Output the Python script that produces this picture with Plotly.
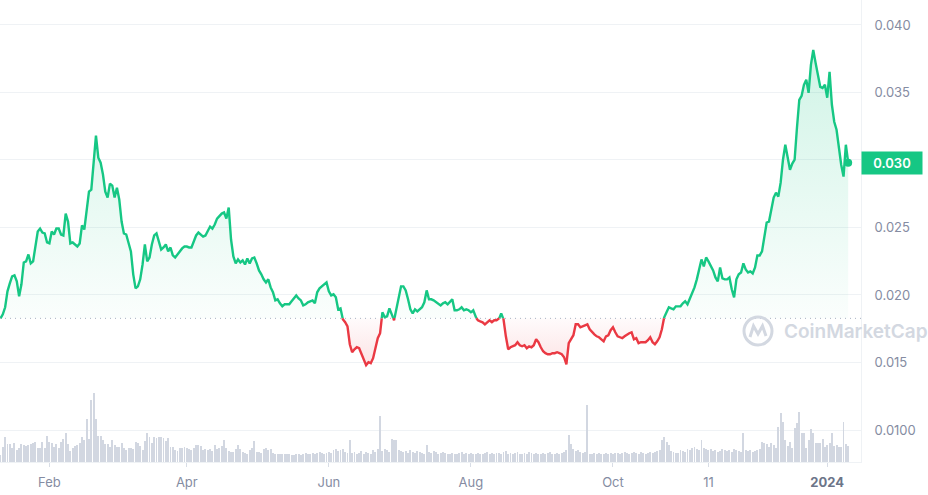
import plotly.graph_objects as go
import pandas as pd

# ---------------- data ----------------
start_date = "2023-01-11"

price = [
    0.01827, 0.01857, 0.01909, 0.02027, 0.02086, 0.02138, 0.02145, 0.02101, 0.01990, 0.02079,
    0.02241, 0.02249, 0.02300, 0.02234, 0.02249, 0.02352, 0.02470, 0.02492, 0.02463, 0.02456,
    0.02389, 0.02382, 0.02470, 0.02448, 0.02492, 0.02492, 0.02448, 0.02441, 0.02603, 0.02544,
    0.02382, 0.02389, 0.02374, 0.02359, 0.02382, 0.02515, 0.02485, 0.02633, 0.02766, 0.02781,
    0.03002, 0.03180, 0.03017, 0.02980, 0.02892, 0.02766, 0.02722, 0.02825, 0.02810, 0.02722,
    0.02795, 0.02707, 0.02544, 0.02456, 0.02448, 0.02374, 0.02323, 0.02153, 0.02049, 0.02064,
    0.02116, 0.02226, 0.02374, 0.02249, 0.02278, 0.02374, 0.02441, 0.02456, 0.02389, 0.02337,
    0.02352, 0.02374, 0.02323, 0.02352, 0.02293, 0.02278, 0.02300, 0.02323, 0.02345, 0.02359,
    0.02359, 0.02352, 0.02352, 0.02396, 0.02441, 0.02463, 0.02448, 0.02433, 0.02441, 0.02470,
    0.02507, 0.02492, 0.02522, 0.02566, 0.02589, 0.02603, 0.02611, 0.02566, 0.02648, 0.02411,
    0.02286, 0.02234, 0.02263, 0.02241, 0.02256, 0.02226, 0.02271, 0.02234, 0.02271, 0.02278,
    0.02234, 0.02182, 0.02153, 0.02116, 0.02093, 0.02116, 0.02056, 0.02020, 0.01960, 0.01968,
    0.01938, 0.01916, 0.01931, 0.01931, 0.01931, 0.01953, 0.01975, 0.01997, 0.01975, 0.01960,
    0.01923, 0.01931, 0.01946, 0.01953, 0.01960, 0.01938, 0.02020, 0.02049, 0.02064, 0.02079,
    0.02093, 0.02027, 0.01997, 0.02005, 0.01983, 0.01894, 0.01901, 0.01820, 0.01798, 0.01768,
    0.01635, 0.01576, 0.01598, 0.01613, 0.01606, 0.01561, 0.01517, 0.01480, 0.01502, 0.01495,
    0.01532, 0.01606, 0.01680, 0.01717, 0.01872, 0.01835, 0.01842, 0.01901, 0.01857, 0.01813,
    0.01894, 0.01990, 0.02064, 0.02064, 0.02034, 0.01968, 0.01894, 0.01864, 0.01894, 0.01879,
    0.01894, 0.01909, 0.01946, 0.02034, 0.01968, 0.01968, 0.01960, 0.01946, 0.01931, 0.01923,
    0.01938, 0.01946, 0.01931, 0.01953, 0.01968, 0.01887, 0.01887, 0.01894, 0.01909, 0.01887,
    0.01894, 0.01887, 0.01872, 0.01887, 0.01835, 0.01813, 0.01805, 0.01798, 0.01783, 0.01798,
    0.01813, 0.01798, 0.01813, 0.01813, 0.01820, 0.01864, 0.01820, 0.01694, 0.01598, 0.01613,
    0.01620, 0.01628, 0.01650, 0.01628, 0.01620, 0.01628, 0.01606, 0.01620, 0.01613, 0.01628,
    0.01672, 0.01650, 0.01613, 0.01583, 0.01569, 0.01561, 0.01561, 0.01569, 0.01569, 0.01576,
    0.01569, 0.01561, 0.01539, 0.01487, 0.01643, 0.01672, 0.01702, 0.01783, 0.01783, 0.01761,
    0.01768, 0.01776, 0.01783, 0.01746, 0.01724, 0.01709, 0.01694, 0.01687, 0.01672, 0.01657,
    0.01694, 0.01702, 0.01739, 0.01761, 0.01724, 0.01694, 0.01687, 0.01680, 0.01694, 0.01709,
    0.01717, 0.01724, 0.01672, 0.01680, 0.01643, 0.01650, 0.01650, 0.01650, 0.01665, 0.01687,
    0.01650, 0.01635, 0.01657, 0.01687, 0.01746, 0.01835, 0.01872, 0.01909, 0.01901, 0.01894,
    0.01916, 0.01916, 0.01916, 0.01938, 0.01953, 0.01931, 0.01975, 0.02012, 0.02056, 0.02116,
    0.02189, 0.02263, 0.02212, 0.02278, 0.02249, 0.02212, 0.02182, 0.02130, 0.02101, 0.02204,
    0.02123, 0.02116, 0.02116, 0.02130, 0.02042, 0.01983, 0.02116, 0.02153, 0.02167, 0.02234,
    0.02189, 0.02167, 0.02175, 0.02160, 0.02204, 0.02293, 0.02293, 0.02323, 0.02448, 0.02537,
    0.02544, 0.02633, 0.02722, 0.02758, 0.02729, 0.02832, 0.03002, 0.03113, 0.03017, 0.02928,
    0.02973, 0.03002, 0.03239, 0.03446, 0.03475, 0.03557, 0.03594, 0.03497, 0.03704, 0.03815,
    0.03719, 0.03630, 0.03542, 0.03534, 0.03557, 0.03461, 0.03653, 0.03409, 0.03283, 0.03224,
    0.03091, 0.02965, 0.02877, 0.03113, 0.02980,
]

# daily traded volume, millions USD
volume_musd = [
    0.7, 1.5, 2.5, 1.8, 1.8, 1.4, 1.9, 1.2, 1.4, 1.8,
    1.7, 1.6, 1.7, 1.8, 1.9, 2.0, 1.4, 1.4, 2.0, 1.4,
    2.6, 2.0, 1.9, 1.5, 1.8, 1.4, 2.0, 2.3, 2.9, 1.8,
    1.1, 1.4, 1.6, 1.7, 1.9, 2.5, 2.2, 4.3, 2.3, 6.2,
    6.9, 4.3, 2.6, 2.6, 2.2, 1.8, 1.8, 1.5, 2.2, 1.7,
    1.5, 1.5, 1.9, 1.4, 1.2, 1.4, 1.4, 1.3, 2.0, 1.9,
    1.6, 1.2, 2.1, 2.9, 2.5, 1.9, 2.5, 2.4, 2.5, 2.5,
    2.4, 2.1, 2.4, 1.5, 1.5, 1.2, 1.1, 1.4, 1.4, 1.5,
    1.4, 1.3, 1.2, 1.4, 1.7, 1.7, 1.6,
    1.2, 1.3, 1.2, 1.3, 1.1, 1.7, 1.3, 1.4, 1.6, 2.2,
    1.4, 1.1, 1.0, 1.0, 1.3, 1.7, 1.3, 1.0, 0.9, 0.8,
    1.2, 1.4, 2.1, 1.0, 1.0, 0.9, 1.3, 1.4, 1.2, 1.3,
    0.9, 0.8, 0.8, 0.8, 0.8, 0.8, 0.8, 0.8, 0.7, 0.7,
    0.8, 0.8, 0.7, 0.8, 0.9, 0.8,
    0.8, 0.9, 0.8, 0.9, 1.0, 0.9, 0.8, 0.9, 1.0, 0.9,
    1.2, 1.3, 1.1, 1.2, 1.3, 1.0, 0.9, 2.2, 0.9, 1.0,
    0.8, 0.9, 1.1, 0.8, 1.0, 0.9, 0.8, 1.2, 1.0, 1.3,
    4.6,
    1.1, 1.3, 1.2, 1.0, 2.3, 2.2, 2.2, 1.2, 1.1,
    1.0, 1.1, 0.9, 1.2, 1.0, 0.9, 1.1, 1.0, 0.9, 0.8,
    1.7,
    1.0, 0.9, 1.1, 1.0, 0.8, 0.9, 1.0, 0.9, 0.8, 0.8,
    0.9, 0.8, 0.8, 0.9, 1.0, 0.8, 0.9, 0.8, 0.9, 0.8,
    0.8, 0.9, 0.8, 0.8, 0.9, 1.0, 0.8, 0.9, 0.8, 0.9,
    0.9, 0.8, 1.0, 1.1, 0.8, 0.9, 0.8, 0.9, 1.0, 0.8,
    0.8, 0.9, 0.8, 1.0, 0.9, 0.8, 0.9, 0.8, 0.8, 0.9,
    0.8, 0.9, 1.0, 0.8, 0.8, 0.9, 0.8, 0.9, 1.0, 1.2,
    2.7, 1.8, 1.3, 1.1, 1.2, 1.0, 0.9, 1.0, 5.7, 0.8,
    0.8, 0.9, 0.8, 0.9, 0.8, 0.8, 0.9, 0.8, 0.9,
    0.8, 0.9, 0.9, 0.8, 0.9, 1.0, 0.9, 0.8, 0.9, 1.0,
    0.9, 0.8, 1.0, 0.9, 0.8, 0.9, 1.0, 0.9, 1.0, 1.1, 1.2,
    2.2, 2.5, 2.0, 1.7,
    1.1, 1.0, 0.9, 0.9, 1.2, 1.1, 1.0, 1.3, 1.2, 1.4,
    1.5, 1.3, 1.2,
    2.2,
    1.4, 1.3, 1.2, 1.3, 1.1, 1.2, 1.0, 1.1, 1.3, 1.2,
    1.1, 1.2, 1.0, 1.3, 1.2, 1.1, 1.0,
    2.9,
    1.2, 1.1, 1.2, 1.0, 1.1, 1.2, 1.3,
    2.0, 1.9, 1.8, 1.5, 1.9, 1.7, 1.4, 3.5, 4.9, 4.0,
    2.2, 1.6, 2.0, 1.4, 3.4, 3.9, 5.0, 2.9, 2.9, 1.4,
    2.2, 3.3, 2.9, 1.9, 1.9, 1.9, 2.3, 1.5, 1.7, 1.9,
    2.9, 1.6, 1.7, 1.5, 1.5, 4.0, 1.8, 1.6,
]

x_tick_dates = ["2023-02-01", "2023-04-01", "2023-06-01", "2023-08-01",
                "2023-10-01", "2023-11-11", "2024-01-01"]
x_tick_text = ["Feb", "Apr", "Jun", "Aug", "Oct", "11",
               "<span style='color:#6c7589'><b>2024</b></span>"]
y_tick_vals = [0.010, 0.015, 0.020, 0.025, 0.030, 0.035, 0.040]
# the 0.030 level is shown by the current-price tag instead of a tick label
y_tick_text = ["0.0100", "0.015", "0.020", "0.025", "", "0.035", "0.040"]
price_label = "0.030"

# ---------------- styling ----------------
GREEN = "#16c784"
RED = "#ea3943"
TICK_COLOR = "#858ca2"
GRID = "#eff2f5"
FONT = "Inter"

dates = pd.date_range(start_date, periods=len(price), freq="D")
base = price[0]

# insert baseline crossing points so colours switch exactly at the baseline
xs, ys = [], []
for i in range(len(price)):
    if i > 0:
        p0, p1 = price[i - 1], price[i]
        if (p0 - base) * (p1 - base) < 0:
            f = (base - p0) / (p1 - p0)
            xs.append(dates[i - 1] + (dates[i] - dates[i - 1]) * f)
            ys.append(base)
    xs.append(dates[i])
    ys.append(price[i])

green_line = [y if y >= base else None for y in ys]
red_line = [y if y <= base else None for y in ys]
up_fill = [max(y, base) for y in ys]
dn_fill = [min(y, base) for y in ys]
base_line = [base] * len(ys)

fig = go.Figure()

# volume bars
fig.add_trace(go.Bar(x=dates, y=volume_musd, yaxis="y2",
                     marker=dict(color="#d2d7e1", line=dict(width=0)),
                     hoverinfo="skip"))

# fills
fig.add_trace(go.Scatter(x=xs, y=base_line, mode="lines", line=dict(width=0),
                         hoverinfo="skip"))
fig.add_trace(go.Scatter(
    x=xs, y=up_fill, mode="lines", line=dict(width=0), fill="tonexty",
    fillgradient=dict(type="vertical", start=base, stop=max(price),
                      colorscale=[[0, "rgba(22,199,132,0.02)"],
                                  [1, "rgba(22,199,132,0.20)"]]),
    hoverinfo="skip"))
fig.add_trace(go.Scatter(x=xs, y=base_line, mode="lines", line=dict(width=0),
                         hoverinfo="skip"))
fig.add_trace(go.Scatter(
    x=xs, y=dn_fill, mode="lines", line=dict(width=0), fill="tonexty",
    fillgradient=dict(type="vertical", start=min(price), stop=base,
                      colorscale=[[0, "rgba(234,57,67,0.14)"],
                                  [1, "rgba(234,57,67,0.02)"]]),
    hoverinfo="skip"))

# price lines
fig.add_trace(go.Scatter(x=xs, y=green_line, mode="lines",
                         line=dict(color=GREEN, width=2.4), connectgaps=False))
fig.add_trace(go.Scatter(x=xs, y=red_line, mode="lines",
                         line=dict(color=RED, width=2.4), connectgaps=False))
# last point dot
fig.add_trace(go.Scatter(x=[dates[-1]], y=[price[-1]], mode="markers",
                         marker=dict(color=GREEN, size=8)))

# plot area in pixels: x 0..861, y 0..462
PW, PH = 861.0, 462.0
def px(x):
    return x / PW
def py(y):
    return 1 - y / PH

shapes = [
    # dotted baseline (open price)
    dict(type="line", xref="paper", yref="y", x0=0, x1=1, y0=base, y1=base,
         line=dict(color="#a7b1c2", width=1, dash="1px,4px"), layer="above"),
    # watermark logo ring
    dict(type="circle", xref="paper", yref="paper",
         x0=px(744), x1=px(772), y0=py(345), y1=py(317),
         line=dict(color="#d3d8e1", width=3)),
    dict(type="path", xref="paper", yref="paper",
         path=(f"M {px(750)},{py(337)} L {px(753.5)},{py(326)} L {px(758)},{py(334)} "
               f"L {px(762.5)},{py(326)} L {px(766)},{py(336)}"),
         line=dict(color="#d3d8e1", width=3)),
]

annotations = [
    dict(xref="paper", yref="paper", x=px(782), y=py(331), xanchor="left",
         yanchor="middle", text="CoinMarketCap", showarrow=False,
         font=dict(family=FONT, size=19, color="#d3d8e1", weight=600)),
    dict(xref="paper", yref="y", x=1.0, y=price[-1], xanchor="left",
         yanchor="middle", text=price_label, showarrow=False,
         bgcolor=GREEN, width=52, height=14, borderpad=4,
         font=dict(family=FONT, size=13, color="white", weight=600)),
]

x_start = pd.Timestamp(start_date) - pd.Timedelta(hours=5)
x_end = pd.Timestamp(start_date) + pd.Timedelta(days=369.5)

fig.update_layout(
    width=928, height=495,
    margin=dict(l=0, r=67, t=0, b=33),
    paper_bgcolor="white", plot_bgcolor="white",
    showlegend=False, hovermode=False,
    bargap=0.6,
    font=dict(family=FONT, size=13, color=TICK_COLOR),
    xaxis=dict(
        type="date", range=[x_start, x_end],
        tickvals=x_tick_dates, ticktext=x_tick_text,
        showgrid=False, zeroline=False,
        showline=True, linecolor=GRID, linewidth=1,
        ticks="outside", ticklen=4, tickcolor="#d8dde6",
        tickfont=dict(family=FONT, size=13, color=TICK_COLOR),
        ticklabelstandoff=4,
    ),
    yaxis=dict(
        side="right", range=[0.00763, 0.04185],
        tickvals=y_tick_vals, ticktext=y_tick_text,
        showgrid=True, gridcolor=GRID, gridwidth=1,
        zeroline=False, showline=True, linecolor=GRID, linewidth=1,
        ticks="", tickfont=dict(family=FONT, size=13, color=TICK_COLOR),
        ticklabelstandoff=10,
    ),
    yaxis2=dict(overlaying="y", range=[0, 46.2], visible=False),
    shapes=shapes,
    annotations=annotations,
)

fig.write_html("out.html")
